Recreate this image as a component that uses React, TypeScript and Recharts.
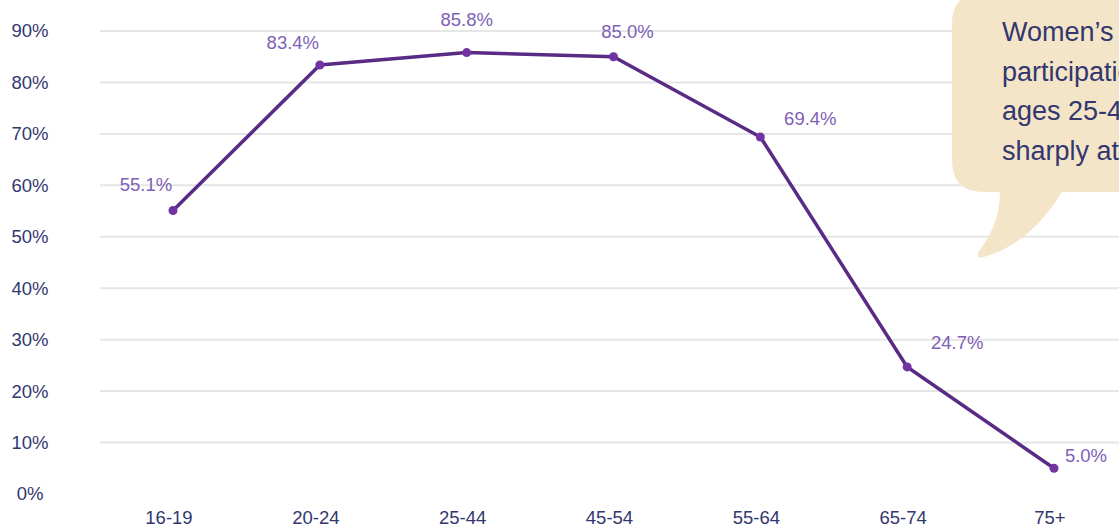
import React from 'react';
import {
  LineChart,
  Line,
  XAxis,
  YAxis,
  CartesianGrid,
  LabelList,
} from 'recharts';

const AGE_GROUPS = ['16-19', '20-24', '25-44', '45-54', '55-64', '65-74', '75+'];
const PARTICIPATION = [55.1, 83.4, 85.8, 85.0, 69.4, 24.7, 5.0];
const Y_TICKS = [0, 10, 20, 30, 40, 50, 60, 70, 80, 90];
const CALLOUT_LINES = [
  'Women\u2019s labor force',
  'participation peaks at',
  'ages 25-44 and drops',
  'sharply at 65+',
];

// label nudges relative to each point (dx, dy of label centre)
const LABEL_NUDGE: [number, number][] = [
  [-27, -26],
  [-27, -22],
  [0, -33],
  [14, -25],
  [50, -18],
  [50, -24],
  [32, -13],
];

const FONT = '"Liberation Sans", Arial, sans-serif';
const NAVY = '#32376f';
const LINE = '#5a2b84';
const DOT = '#7234a3';
const LABEL = '#7e60b6';

const data = AGE_GROUPS.map((age, i) => ({ age, rate: PARTICIPATION[i] }));

function YTick(props: any) {
  const { y, payload } = props;
  return (
    <text x={30} y={y} dy="0.35em" textAnchor="middle" fill={NAVY} fontSize={18.5} fontFamily={FONT}>
      {`${payload.value}%`}
    </text>
  );
}

function XTick(props: any) {
  const { x, y, payload } = props;
  return (
    <text x={x - 4} y={y} dy={22} textAnchor="middle" fill={NAVY} fontSize={18.5} fontFamily={FONT}>
      {payload.value}
    </text>
  );
}

function PointLabel(props: any) {
  const { x, y, index, value } = props;
  const [dx, dy] = LABEL_NUDGE[index] ?? [0, -20];
  return (
    <text
      x={x + dx}
      y={y + dy}
      dy="0.35em"
      textAnchor="middle"
      fill={LABEL}
      fontSize={18.5}
      fontFamily={FONT}
    >
      {`${Number(value).toFixed(1)}%`}
    </text>
  );
}

function Callout() {
  return (
    <svg
      width={1119}
      height={527}
      style={{ position: 'absolute', left: 0, top: 0, pointerEvents: 'none' }}
    >
      <path
        d="M 985 -8 H 1200 V 192 H 1062 Q 1030 244 984 257 Q 975 259 979 251 Q 1000 224 1000 192 H 984 Q 952 192 952 160 V 24 Q 952 -8 985 -8 Z"
        fill="#f4e4c8"
      />
      {CALLOUT_LINES.map((line, i) => (
        <text key={i} x={1002} y={41 + i * 39.7} fill={NAVY} fontSize={27} fontFamily={FONT}>
          {line}
        </text>
      ))}
    </svg>
  );
}

export default function App() {
  return (
    <div
      style={{
        position: 'absolute',
        left: 0,
        top: 0,
        width: 1119,
        height: 527,
        overflow: 'hidden',
        background: '#fff',
        fontFamily: FONT,
      }}
    >
      <LineChart
        width={1130}
        height={527}
        data={data}
        margin={{ top: 31, right: 3, bottom: 0, left: 0 }}
      >
        <CartesianGrid
          vertical={false}
          horizontalValues={Y_TICKS.slice(1)}
          stroke="#e6e6e6"
          strokeWidth={2}
        />
        <XAxis
          dataKey="age"
          height={33}
          axisLine={false}
          tickLine={false}
          tick={<XTick />}
          interval={0}
          padding={{ left: 73, right: 73 }}
        />
        <YAxis
          width={100}
          domain={[0, 90]}
          ticks={Y_TICKS}
          axisLine={false}
          tickLine={false}
          tick={<YTick />}
          interval={0}
        />
        <Line
          type="linear"
          dataKey="rate"
          stroke={LINE}
          strokeWidth={3.5}
          dot={{ r: 4.5, fill: DOT, stroke: DOT, strokeWidth: 0 }}
          activeDot={false}
          isAnimationActive={false}
        >
          <LabelList dataKey="rate" content={<PointLabel />} />
        </Line>
      </LineChart>
      <Callout />
    </div>
  );
}
